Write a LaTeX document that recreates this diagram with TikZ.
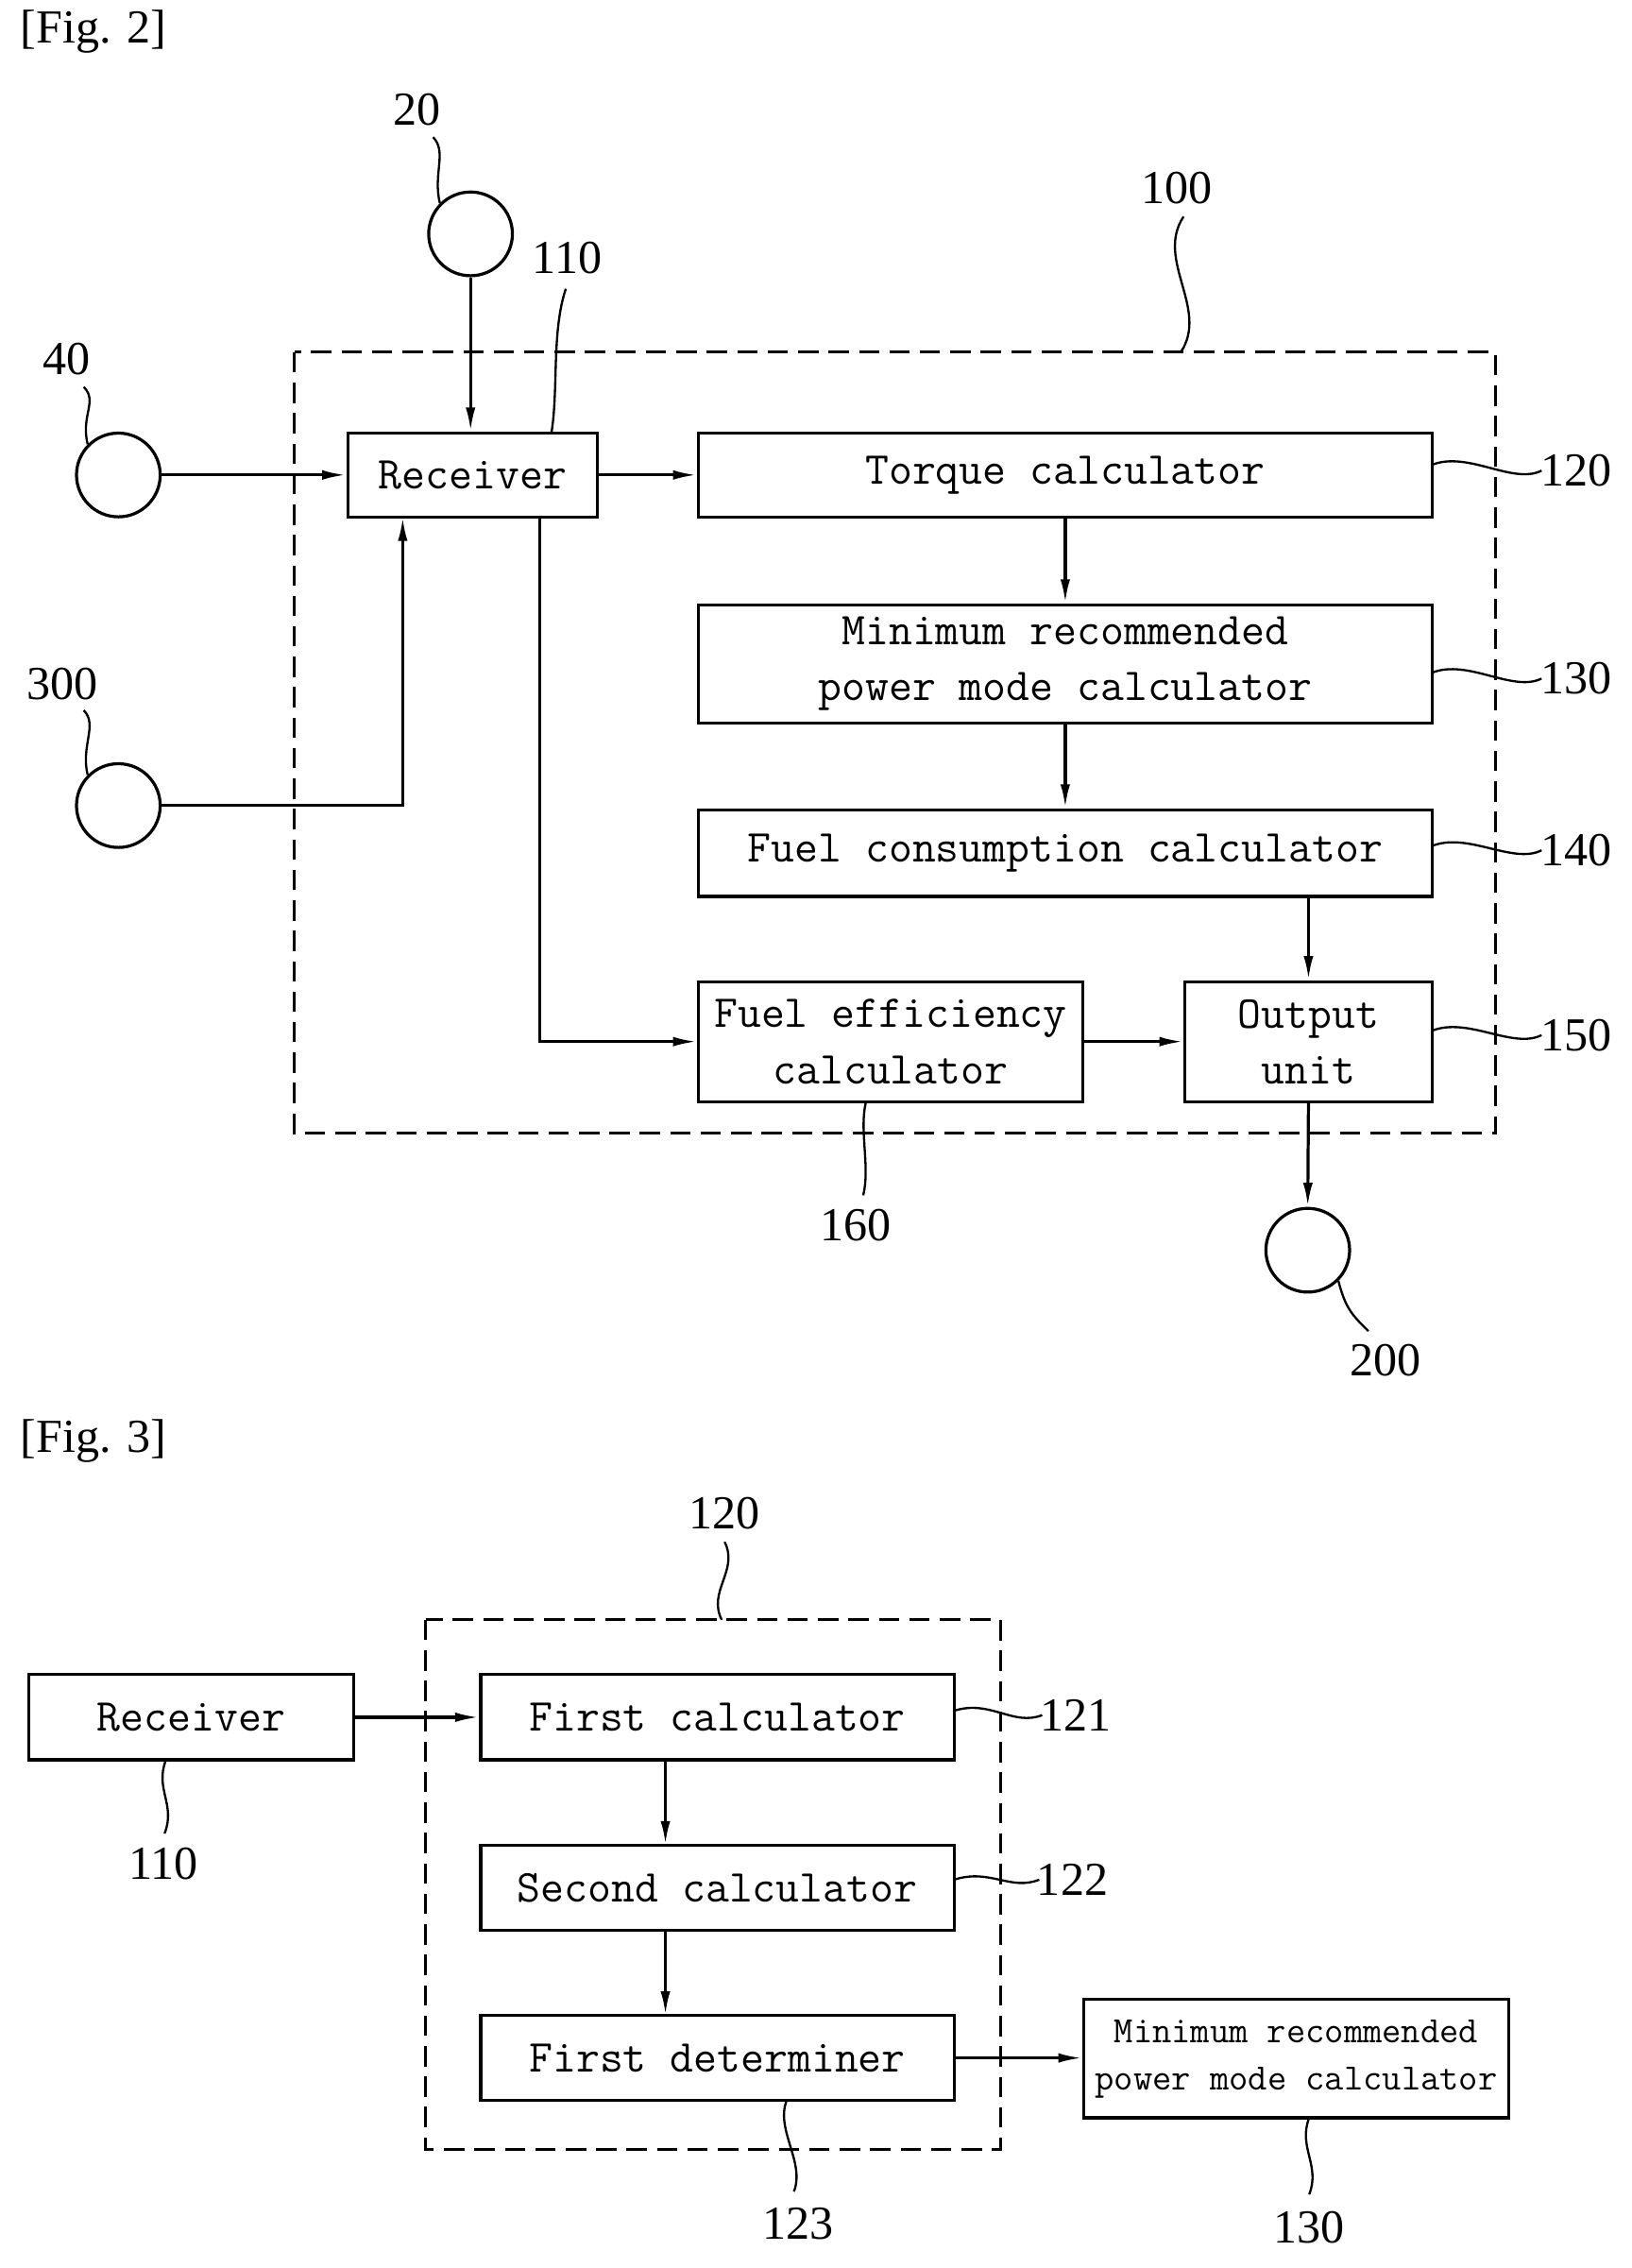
\documentclass[tikz,border=0pt]{standalone}
\usepackage{fontspec}
\setmainfont{Liberation Serif}
\usetikzlibrary{arrows.meta}
\begin{document}
\begin{tikzpicture}[x=0.03cm,y=-0.03cm,
 lw/.style={line width=1.8pt},
 box/.style={draw,lw,rectangle,inner sep=0pt,align=center,font=\fontsize{27}{33}\selectfont\ttfamily},
 sbox/.style={box,font=\fontsize{22}{28}\selectfont\ttfamily},
 circ/.style={draw,lw,circle,minimum size=1.74cm,inner sep=0pt},
 num/.style={font=\fontsize{28}{30}\selectfont},
 arr/.style={lw,-{Latex[length=0.5cm,width=0.2cm]}},
 lead/.style={line width=1.3pt},
 dsh/.style={line width=1.6pt,dash pattern=on 12pt off 6pt}]
\useasboundingbox (0,0) rectangle (1130,1571);
% Fig 2
\node[num,anchor=west] (f2) at (10,22) {[Fig. 2]};
\draw[dsh] (204,244) rectangle (1036,785);
\coordinate (b100) at (818,244);
\node[num] (l100) at (815,130) {100};
\draw[lead] (b100) .. controls +(20,-30) and +(-20,30) .. (820,150);
\node[box,minimum width=5.19cm,minimum height=1.74cm] (rec) at (327.5,329) {Receiver};
\node[box,minimum width=15.24cm,minimum height=1.74cm] (tq) at (738,329) {Torque calculator};
\node[box,minimum width=15.24cm,minimum height=2.46cm] (mr) at (738,460) {Minimum recommended\\power mode calculator};
\node[box,minimum width=15.24cm,minimum height=1.8cm] (fc) at (738,591) {Fuel consumption calculator};
\node[box,minimum width=7.98cm,minimum height=2.49cm] (fe) at (617,721.5) {Fuel efficiency\\calculator};
\node[box,minimum width=5.13cm,minimum height=2.49cm] (ou) at (906.5,721.5) {Output\\unit};
\node[circ] (c20) at (326,162) {};
\node[circ] (c40) at (82,329) {};
\node[circ] (c300) at (82,558) {};
\node[circ] (c200) at (906,866) {};
\node[num] (l20) at (289,76) {20};
\node[num] (l40) at (46,249) {40};
\node[num] (l300) at (43,474) {300};
\node[num] (l200) at (960,942) {200};
\node[num] (l110) at (393,179) {110};
\node[num] (l120) at (1092,326) {120};
\node[num] (l130) at (1092,470) {130};
\node[num] (l140) at (1092,589) {140};
\node[num] (l150) at (1092,717) {150};
\node[num] (l160) at (593,849) {160};
\draw[lead] (c20.north west) .. controls +(-5,-20) and +(10,10) .. (300,95);
\draw[lead] (c40.north west) .. controls +(-5,-20) and +(10,10) .. (58,268);
\draw[lead] (c300.north west) .. controls +(-5,-20) and +(10,10) .. (58,492);
\draw[lead] (c200.south east) .. controls +(5,20) and +(-10,-10) .. (948,922);
\draw[lead] (382,300) .. controls +(5,-30) and +(-10,30) .. (392,200);
\draw[lead] (992,322) .. controls +(25,-10) and +(-20,10) .. (1068,326);
\draw[lead] (992,466) .. controls +(25,-10) and +(-20,10) .. (1068,470);
\draw[lead] (992,586) .. controls +(25,-10) and +(-20,10) .. (1068,589);
\draw[lead] (992,714) .. controls +(25,-10) and +(-20,10) .. (1068,717);
\draw[lead] (600,763) .. controls +(-5,20) and +(5,-20) .. (598,828);
\draw[arr] (c20) -- (c20 |- rec.north);
\draw[arr] (c40) -- (rec.west |- c40);
\draw[arr] (c300.east) -- (279,558) -- (279,358);
\draw[arr] (rec) -- (tq.west |- rec);
\draw[arr] (374,358) -- (374,721.5) -- (fe.west);
\draw[arr] (tq.south) -- (mr.north);
\draw[arr] (mr.south) -- (fc.north);
\draw[arr] (ou.north |- fc.south) -- (ou.north);
\draw[arr] (fe.east) -- (ou.west);
\draw[arr] (ou.south) -- (c200.north);
% Fig 3
\node[num,anchor=west] (f3) at (10,998) {[Fig. 3]};
\draw[dsh] (295,1122) rectangle (693,1489);
\node[num] (l120b) at (502,1048) {120};
\draw[lead] (500,1122) .. controls +(-10,-20) and +(10,20) .. (502,1068);
\node[box,minimum width=6.75cm,minimum height=1.77cm] (r3) at (132.5,1189.5) {Receiver};
\node[box,minimum width=9.84cm,minimum height=1.77cm] (fst) at (497,1189.5) {First calculator};
\node[box,minimum width=9.84cm,minimum height=1.77cm] (snd) at (497,1307.5) {Second calculator};
\node[box,minimum width=9.84cm,minimum height=1.77cm] (det) at (497,1425.5) {First determiner};
\node[sbox,minimum width=8.82cm,minimum height=2.46cm] (mr3) at (898,1426) {Minimum recommended\\power mode calculator};
\node[num] (l110b) at (113,1291) {110};
\node[num] (l121) at (745,1188) {121};
\node[num] (l122) at (743,1302) {122};
\node[num] (l123) at (553,1540) {123};
\node[num] (l130b) at (907,1543) {130};
\draw[lead] (115,1219) .. controls +(-8,20) and +(8,-20) .. (114,1270);
\draw[lead] (661,1185) .. controls +(25,-8) and +(-20,8) .. (722,1188);
\draw[lead] (661,1302) .. controls +(25,-8) and +(-20,8) .. (720,1302);
\draw[lead] (545,1455) .. controls +(-8,20) and +(8,-20) .. (550,1518);
\draw[lead] (907,1467) .. controls +(-8,20) and +(8,-20) .. (907,1520);
\draw[arr] (r3.east) -- (fst.west);
\draw[arr] (461,1219) -- (461,1278);
\draw[arr] (461,1337) -- (461,1396);
\draw[arr] (det.east) -- (mr3.west |- det.east);
\end{tikzpicture}
\end{document}
